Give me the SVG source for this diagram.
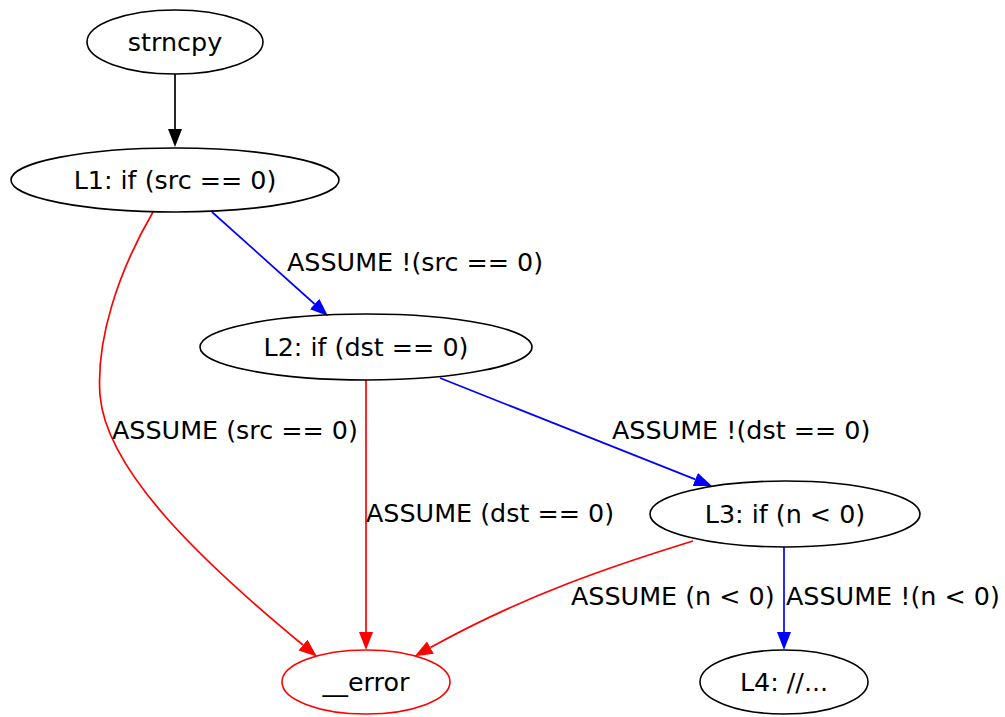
<svg xmlns="http://www.w3.org/2000/svg" width="1005" height="717" viewBox="0 0 1005 717">
  <style>
    text { font-family: "DejaVu Sans", "Liberation Sans", sans-serif; font-size: 25.4px; fill: #000; }
    .node ellipse { fill: none; stroke: #000; stroke-width: 1.6; }
    .node text { text-anchor: middle; }
    #n_error ellipse { stroke: #ff0000; }
    .edge { fill: none; stroke-width: 1.7; }
    .black { stroke: #000; }
    .blue { stroke: #0000ff; }
    .red { stroke: #ff0000; }
  </style>
  <defs>
    <marker id="arrow-black" markerUnits="userSpaceOnUse" markerWidth="19" markerHeight="15" refX="0" refY="7" orient="auto">
      <path d="M0,0 L18,7 L0,14 Z" fill="#000"/>
    </marker>
    <marker id="arrow-blue" markerUnits="userSpaceOnUse" markerWidth="19" markerHeight="15" refX="0" refY="7" orient="auto">
      <path d="M0,0 L18,7 L0,14 Z" fill="#0000ff"/>
    </marker>
    <marker id="arrow-red" markerUnits="userSpaceOnUse" markerWidth="19" markerHeight="15" refX="0" refY="7" orient="auto">
      <path d="M0,0 L18,7 L0,14 Z" fill="#ff0000"/>
    </marker>
  </defs>
  <rect width="1005" height="717" fill="#fff"/>

  <!-- connectors -->
  <g id="edges">
    <path class="edge black" d="M175,74 L175,129" marker-end="url(#arrow-black)"/>
    <path class="edge blue" d="M212,212 L314.6,304" marker-end="url(#arrow-blue)"/>
    <path class="edge red" d="M153,212 C118,272 96,340 100,395 C106,470 200,560 303,645" marker-end="url(#arrow-red)"/>
    <path class="edge red" d="M366,380 L366,632" marker-end="url(#arrow-red)"/>
    <path class="edge blue" d="M440,378 L695.3,479.4" marker-end="url(#arrow-blue)"/>
    <path class="edge red" d="M693,541 C615,565 525,595 430.4,647.6" marker-end="url(#arrow-red)"/>
    <path class="edge blue" d="M784,547 L784,632" marker-end="url(#arrow-blue)"/>

    <text x="287" y="271">ASSUME !(src == 0)</text>
    <text x="112" y="439">ASSUME (src == 0)</text>
    <text x="612" y="439">ASSUME !(dst == 0)</text>
    <text x="366" y="522">ASSUME (dst == 0)</text>
    <text x="571" y="605">ASSUME (n &lt; 0)</text>
    <text x="786" y="605">ASSUME !(n &lt; 0)</text>
  </g>

  <!-- nodes -->
  <g id="n_strncpy" class="node">
    <ellipse cx="175" cy="42" rx="88" ry="32"/>
    <text x="175" y="51">strncpy</text>
  </g>
  <g id="n_L1" class="node">
    <ellipse cx="175" cy="180" rx="164" ry="32"/>
    <text x="175" y="189">L1: if (src == 0)</text>
  </g>
  <g id="n_L2" class="node">
    <ellipse cx="366" cy="347" rx="166" ry="33"/>
    <text x="366" y="356">L2: if (dst == 0)</text>
  </g>
  <g id="n_L3" class="node">
    <ellipse cx="785" cy="514" rx="135" ry="33"/>
    <text x="785" y="523">L3: if (n &lt; 0)</text>
  </g>
  <g id="n_error" class="node">
    <ellipse cx="366" cy="682" rx="84" ry="32"/>
    <text x="366" y="691">__error</text>
  </g>
  <g id="n_L4" class="node">
    <ellipse cx="784" cy="682" rx="84" ry="32"/>
    <text x="784" y="691">L4: //...</text>
  </g>
</svg>
